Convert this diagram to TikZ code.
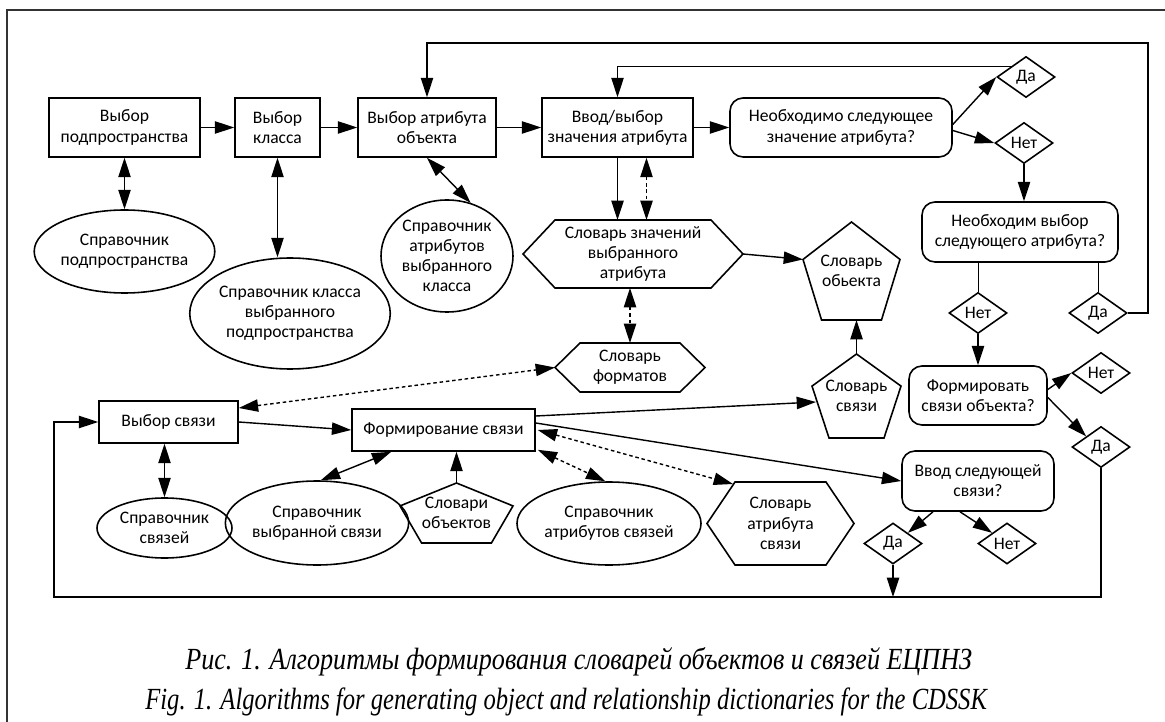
\documentclass[tikz,border=0pt]{standalone}
\usepackage{fontspec}
\setmainfont{Carlito}
\newfontfamily\capfont{Liberation Serif}
\usetikzlibrary{arrows.meta,shapes.geometric,calc}

\tikzset{
  sz/.style 2 args={minimum width=#1*0.02cm, minimum height=#2*0.02cm},
  shp/.style={line width=0.9pt},
  blk/.style={draw, shp, rectangle, inner sep=0pt, align=center},
  rnd/.style={blk, rounded corners=0.26cm},
  ell/.style={draw, shp, ellipse, inner sep=0pt, align=center},
  dm/.style={draw, shp, diamond, inner sep=0pt, sz={58}{41}},
  bare/.style={inner sep=0pt, outer sep=0pt, align=center},
  captxt/.style={inner sep=0pt, anchor=west, font=\capfont\itshape\fontsize{17.5}{20}\selectfont},
  tip/.tip={Triangle[length=11pt,width=7pt]},
  arr/.style={-tip, line width=0.8pt},
  darr/.style={tip-tip, line width=0.8pt},
  dotarr/.style={darr, dash pattern=on 2pt off 1.6pt},
  frame/.style={line width=1pt, draw=black!80}
}
% pentagon and hexagon around a bare node
\newcommand\drawpent[1]{\draw[shp] (#1.north) -- ($(#1.north east)!0.382!(#1.south east)$) -- ($(#1.south east)!0.191!(#1.south west)$) -- ($(#1.south west)!0.191!(#1.south east)$) -- ($(#1.north west)!0.382!(#1.south west)$) -- cycle;}
\newcommand\drawhex[2]{\draw[shp] (#1.west) -- ($(#1.north west)+(#2,0)$) -- ($(#1.north east)+(-#2,0)$) -- (#1.east) -- ($(#1.south east)+(-#2,0)$) -- ($(#1.south west)+(#2,0)$) -- cycle;}

\begin{document}
\begin{tikzpicture}[x=0.02cm, y=-0.02cm, font=\fontsize{10}{11.5}\selectfont]
  \useasboundingbox (0,0) rectangle (1165,722);
  \draw[frame] (7,722) -- (7,10) -- (1165,10);

  % attribute part
  \node[blk, sz={151}{59}] (vsub)  at (124.5,127.5) {Выбор\\подпространства};
  \node[blk, sz={85}{59}]  (vcls)  at (277.5,127.5) {Выбор\\класса};
  \node[blk, sz={138}{59}] (vatr)  at (427,127.5)   {Выбор атрибута\\объекта};
  \node[blk, sz={151}{59}] (vval)  at (617.5,127.5) {Ввод/выбор\\значения атрибута};
  \node[rnd, sz={222}{59}] (qval)  at (841,127.5)   {Необходимо следующее\\значение атрибута?};
  \node[dm] (yes1) at (1026,77)  {Да};
  \node[dm] (no1)  at (1024,143) {Нет};
  \node[rnd, sz={196}{60}] (qatr)  at (1020,232)    {Необходим выбор\\следующего атрибута?};
  \node[dm] (no2)  at (978,313)  {Нет};
  \node[dm] (yes2) at (1098,313) {Да};
  \node[rnd, sz={138}{59}] (qlnk)  at (978,395.5)   {Формировать\\связи объекта?};
  \node[dm] (no3)  at (1101,373) {Нет};
  \node[dm] (yes3) at (1101,447) {Да};

  \node[ell, sz={149}{83}]  (rsub) at (124.5,251.5) {Справочник\\подпространства};
  \node[ell, sz={196}{111}] (rcls) at (290,313.5)   {Справочник класса\\выбранного\\подпространства};
  \node[ell, sz={132}{112}] (ratr) at (447,256)     {Справочник\\атрибутов\\выбранного\\класса};
  \node[bare, sz={220}{68}] (dval) at (633,254)     {Словарь значений\\выбранного\\атрибута};
  \node[bare, sz={150}{49}] (dfmt) at (630,367.5)   {Словарь\\форматов};
  \node[bare, sz={97}{98}]  (dobj) at (851.5,271)   {Словарь\\обьекта};
  \node[bare, sz={89}{84}]  (dlnk) at (856.5,396)   {Словарь\\связи};
  \drawhex{dval}{32}
  \drawhex{dfmt}{25}
  \drawpent{dobj}
  \drawpent{dlnk}

  % link part
  \node[blk, sz={139}{42}] (vlnk) at (168.5,422) {Выбор связи};
  \node[blk, sz={183}{42}] (flnk) at (443.5,430) {Формирование связи};
  \node[rnd, sz={152}{60}] (qnxt) at (978,481)   {Ввод следующей\\связи?};
  \node[dm] (yes4) at (893,543.5)  {Да};
  \node[dm] (no4)  at (1007,543.5) {Нет};
  \node[ell, sz={135}{60}]  (rlnk) at (164.5,528) {Справочник\\связей};
  \node[ell, sz={160}{84}]  (rsel) at (317,523)   {Справочник\\выбранной связи};
  \node[bare, sz={113}{60}] (dobs) at (456.5,513) {Словари\\объектов};
  \node[ell, sz={184}{83}]  (ratl) at (609,523.5) {Справочник\\атрибутов связей};
  \node[bare, sz={147}{83}] (datl) at (780.5,523.5) {Словарь\\атрибута\\связи};
  \drawpent{dobs}
  \drawhex{datl}{28}

  \coordinate (loopT) at (1148,43);
  \coordinate (loopB) at (54,597);
  \coordinate (vvdot) at ($(vval.south)+(29,0)$);

  % connectors
  \draw[arr] (vsub) -- (vcls);
  \draw[arr] (vcls) -- (vatr);
  \draw[arr] (vatr) -- (vval);
  \draw[arr] (vval) -- (qval);
  \draw[darr] (vsub.south) -- (rsub.north);
  \draw[darr] (vcls.south) -- (vcls.south |- rcls.north);
  \draw[darr] (vatr.south) -- (ratr.66);
  \draw[arr] (vval.south) -- (vval.south |- dval.north);
  \draw[dotarr] (vvdot) -- (vvdot |- dval.north);
  \draw[dotarr] (dfmt.north |- dval.south) -- (dfmt.north);
  \draw[arr] (dval.east) -- ($(dobj.north west)!0.382!(dobj.south west)$);
  \draw[arr] (dlnk.north) -- (dlnk.north |- dobj.south);
  \draw[arr] ($(qval.east)+(0,-3)$) -- (yes1.west);
  \draw[arr] ($(qval.east)+(0,3)$) -- (no1.west);
  \draw[arr] (yes1.north west) -| (vval.north);
  \draw[arr] (no1.south) -- (no1.south |- qatr.north);
  \draw (no2.north |- qatr.south) -- (no2.north);
  \draw (yes2.north |- qatr.south) -- (yes2.north);
  \draw[arr] (yes2.east) -| (loopT) -| (vatr.north);
  \draw[arr] (no2.south) -- (qlnk.north);
  \draw[arr] ($(qlnk.east)+(0,-6)$) -- (no3.west);
  \draw[arr] ($(qlnk.east)+(0,2)$) -- (yes3.north west);
  \draw[arr] (yes3.south) |- (loopB) |- (vlnk.west);

  \draw[arr] (vlnk.east) -- (flnk.west);
  \draw[darr] (rlnk.north |- vlnk.south) -- (rlnk.north);
  \draw[dotarr] ($(vlnk.east)+(0,-14)$) -- (dfmt.west);
  \draw[arr] ($(flnk.east)+(0,-14)$) -- ($(dlnk.west)+(4,6)$);
  \draw[arr] ($(flnk.east)+(0,-7)$) -- (qnxt.west);
  \draw[dotarr] ($(flnk.east)+(2,0)$) -- ($(datl.north west)+(26,2)$);
  \draw[dotarr] ($(flnk.south east)+(2,-2)$) -- (ratl.95);
  \draw[arr] (dobs.north) -- (dobs.north |- flnk.south);
  \draw[darr] (rsel.85) -- ($(flnk.south west)+(40,0)$);
  \draw[arr] ($(qnxt.south)+(-45,0)$) -- (yes4.north east);
  \draw[arr] ($(qnxt.south)+(-18,0)$) -- (no4.north west);
  \draw[arr] (yes4.south) -- (yes4.south |- loopB);

  % caption
  \node[captxt] (cap1) at (185,662) {\scalebox{0.85}[1]{Рис. 1. Алгоритмы формирования словарей объектов и связей ЕЦПНЗ}};
  \node[captxt] (cap2) at (145,702) {\scalebox{0.8}[1]{Fig. 1. Algorithms for generating object and relationship dictionaries for the CDSSK}};
\end{tikzpicture}
\end{document}
